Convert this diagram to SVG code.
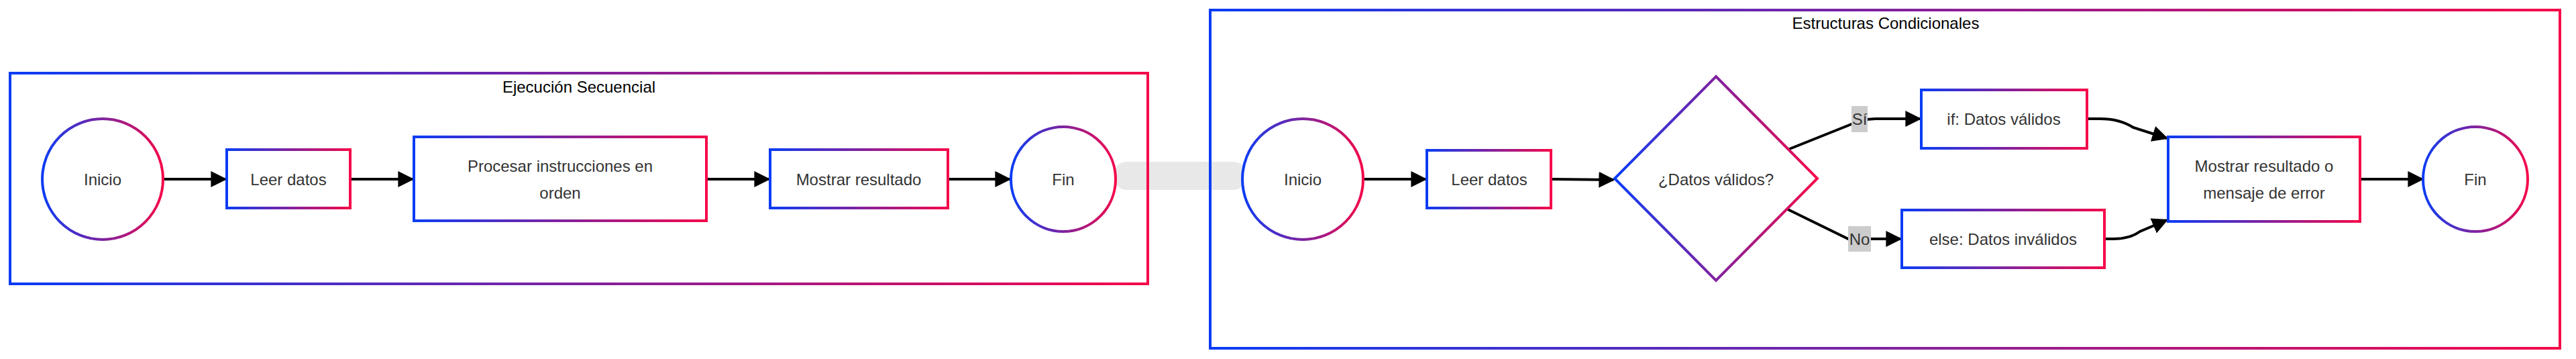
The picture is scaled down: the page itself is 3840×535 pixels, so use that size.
<svg xmlns="http://www.w3.org/2000/svg" width="3840" height="535" viewBox="0 0 3840 535">
<defs>
<linearGradient id="g" x1="0" y1="0" x2="1" y2="0"><stop offset="0" stop-color="#0a3cf5"/><stop offset="1" stop-color="#f5084a"/></linearGradient>
<marker id="a" viewBox="0 0 10 10" refX="9" refY="5" markerWidth="6" markerHeight="6" orient="auto" markerUnits="strokeWidth"><path d="M0,0 L10,5 L0,10 z" fill="#000"/></marker>
<style>
.n{fill:#fff;stroke:url(#g);stroke-width:4}
.c{fill:none;stroke:url(#g);stroke-width:4}
.t{font-family:"Liberation Sans",Arial,sans-serif;font-size:24px;fill:#333;text-anchor:middle;dominant-baseline:central}
.h{font-family:"Liberation Sans",Arial,sans-serif;font-size:24px;fill:#000;text-anchor:middle;dominant-baseline:central}
.e{fill:none;stroke:#000;stroke-width:4;marker-end:url(#a)}
.l{fill:#ccc}
</style>
</defs>
<rect width="3840" height="535" fill="#fff"/>
<path d="M1680,262 L1838,262" stroke="#e8e8e8" stroke-width="42" stroke-linecap="round"/>
<g id="cluster1"><rect class="c" x="15" y="109" width="1696" height="314"/><text class="h" x="863" y="129">Ejecución Secuencial</text></g>
<g id="cluster2"><rect class="c" x="1804" y="15" width="2012" height="504"/><text class="h" x="2811" y="34">Estructuras Condicionales</text></g>
<g id="connectors">
<path class="e" d="M244,267 L336,267"/>
<path class="e" d="M524,267 L615,267"/>
<path class="e" d="M1055,267 L1146,267"/>
<path class="e" d="M1415,267 L1505,267"/>
<path class="e" d="M2034,267 L2125,267"/>
<path class="e" d="M2314,267 L2405,268"/>
<path class="e" d="M2665,223 L2760,185 Q2775,177 2800,177 L2862,177"/>
<path class="e" d="M2665,312 L2755,356 L2833,356"/>
<path class="e" d="M3113,177 L3130,177 Q3160,177 3180,190 L3230,206"/>
<path class="e" d="M3139,356 L3150,356 Q3175,356 3190,345 L3230,328"/>
<path class="e" d="M3520,267 L3611,267"/>
<rect class="l" x="2760" y="158" width="24" height="39"/><text class="t" x="2772" y="177">Sí</text>
<rect class="l" x="2755" y="337" width="34" height="38"/><text class="t" x="2772" y="356">No</text>
</g>
<g id="inicio1"><circle class="n" cx="153" cy="267" r="90"/><text class="t" x="153" y="267">Inicio</text></g>
<g id="leer1"><rect class="n" x="338" y="223" width="184" height="87"/><text class="t" x="430" y="267">Leer datos</text></g>
<g id="procesar"><rect class="n" x="617" y="204" width="436" height="125"/><text class="t" x="835" y="247">Procesar instrucciones en</text><text class="t" x="835" y="287">orden</text></g>
<g id="mostrar1"><rect class="n" x="1148" y="223" width="265" height="87"/><text class="t" x="1280" y="267">Mostrar resultado</text></g>
<g id="fin1"><circle class="n" cx="1585" cy="267" r="78"/><text class="t" x="1585" y="267">Fin</text></g>
<g id="inicio2"><circle class="n" cx="1942" cy="267" r="90"/><text class="t" x="1942" y="267">Inicio</text></g>
<g id="leer2"><rect class="n" x="2127" y="224" width="185" height="86"/><text class="t" x="2220" y="267">Leer datos</text></g>
<g id="decision"><polygon class="n" points="2558,114 2709,266 2558,418 2407,266"/><text class="t" x="2558" y="267">¿Datos válidos?</text></g>
<g id="ifbox"><rect class="n" x="2864" y="134" width="247" height="87"/><text class="t" x="2987" y="177">if: Datos válidos</text></g>
<g id="elsebox"><rect class="n" x="2835" y="313" width="302" height="86"/><text class="t" x="2986" y="356">else: Datos inválidos</text></g>
<g id="mostrar2"><rect class="n" x="3232" y="204" width="286" height="126"/><text class="t" x="3375" y="247">Mostrar resultado o</text><text class="t" x="3375" y="287">mensaje de error</text></g>
<g id="fin2"><circle class="n" cx="3690" cy="267" r="78"/><text class="t" x="3690" y="267">Fin</text></g>
</svg>
